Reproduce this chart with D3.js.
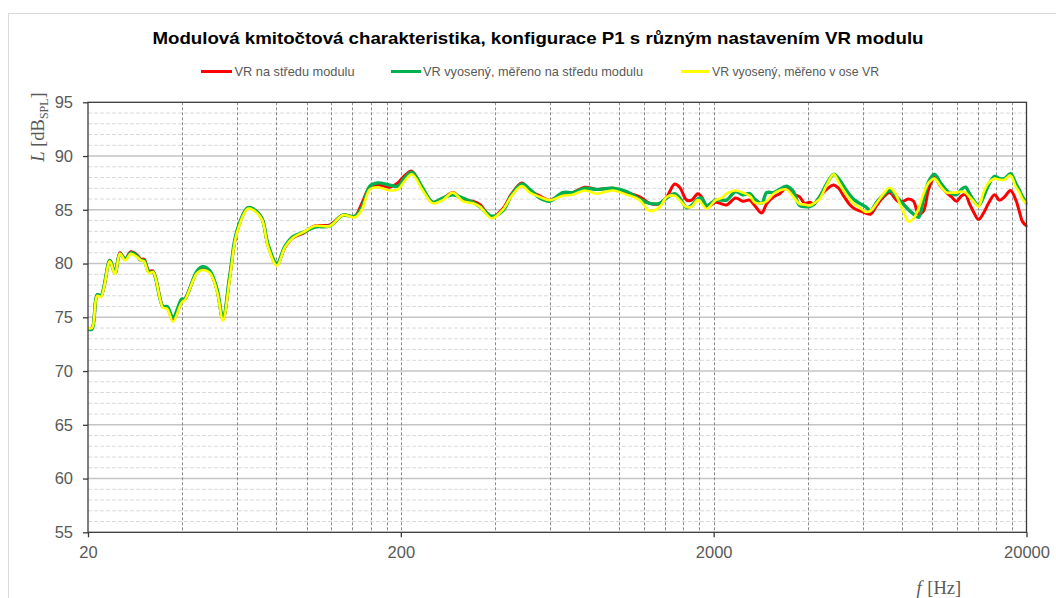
<!DOCTYPE html>
<html><head><meta charset="utf-8">
<script src="https://cdn.jsdelivr.net/npm/d3@7"></script>
<style>body{margin:0;background:#fff}svg{display:block}</style>
</head><body>
<script>
const titleText = "Modulová kmitočtová charakteristika, konfigurace P1 s různým nastavením VR modulu";
const seriesNames = ["VR na středu modulu", "VR vyosený, měřeno na středu modulu", "VR vyosený, měřeno v ose VR"];
const seriesColors = ["#ff0000", "#00b050", "#ffff00"];
const xTickValues = [20, 200, 2000, 20000];
const yTickValues = [55, 60, 65, 70, 75, 80, 85, 90, 95];

const freqs = [
 20,20.6,21.4,22.0,23.5,24.4,25.3,26.3,27.4,28.7,
 29.5,30.2,31.3,32.3,34.7,35.8,37.4,39.9,40.8,44.6,
 46.6,49.1,51.7,54.0,56.8,59.8,64.9,67.3,71.9,75.2,
 80.3,85.2,90.4,97.3,106.2,118.7,130.5,142.6,150.1,159.2,
 168.9,184.4,195.6,206.0,216.9,235.1,253.1,272.4,293.2,315.6,
 339.7,357.7,390.7,423.6,452.5,487.1,516.7,556.1,598.5,658.6,
 708.9,774.2,845.7,951.3,1054,1160,1249,1344,1416,1501,
 1557,1640,1701,1778,1831,1900,2030,2121,2201,2351,
 2475,2606,2704,2847,2953,3110,3250,3422,3575,3765,
 3907,4053,4174,4363,4593,4835,5016,5204,5439,5643,
 5855,6119,6348,6635,6986,7301,7630,7858,8093,8395,
 8710,9035,9374,9726,10165,10624,11103,11519,11951,12398,
 12769,13150,13543,14050,14577,15123,15805,16397,17012,17776,
 18445,18996,19420,20000];

const redValues = [
 74.0,74.0,77.1,77.0,80.3,79.1,81.0,80.4,81.1,80.8,
 80.4,80.4,79.3,79.3,76.0,75.9,74.7,76.5,76.7,79.2,
 79.6,79.2,77.5,74.8,78.8,82.9,85.2,85.1,84.2,81.7,
 79.9,81.5,82.4,82.8,83.5,83.6,84.5,84.4,85.6,87.1,
 87.3,87.1,87.5,88.2,88.6,86.9,85.7,86.0,86.6,85.9,
 85.8,85.5,84.3,85.1,86.5,87.5,86.8,86.3,85.9,86.5,
 86.6,87.1,86.9,87.0,86.6,86.2,85.6,85.55,86.2,87.4,
 87.1,85.9,85.9,86.5,86.2,85.25,85.7,85.55,85.45,86.1,
 85.8,85.9,85.4,84.7,85.55,86.2,86.5,87.05,86.5,86.2,
 85.6,85.7,85.55,86.2,86.9,87.3,87.0,86.3,85.5,85.1,
 84.9,84.7,84.6,85.4,86.2,86.6,86.0,85.7,85.8,86.0,
 85.8,84.6,84.9,86.9,88.0,87.2,86.6,86.2,85.8,86.3,
 86.4,85.55,84.8,84.1,84.7,85.6,86.4,85.9,86.2,86.8,
 86.0,84.8,83.9,83.5];

const greenValues = [
 73.9,73.9,77.1,77.0,80.3,79.1,80.9,80.4,81.0,80.7,
 80.3,80.3,79.2,79.2,76.0,76.0,75.0,76.7,76.7,79.3,
 79.7,79.3,77.6,74.9,78.9,83.0,85.2,85.1,84.2,81.8,
 80.0,81.6,82.5,82.9,83.4,83.5,84.5,84.4,85.2,87.2,
 87.5,87.3,87.2,88.0,88.5,87.0,85.7,86.1,86.4,86.1,
 85.7,85.3,84.4,84.9,86.4,87.4,86.9,86.1,85.8,86.6,
 86.6,87.0,86.9,87.0,86.7,86.0,85.6,85.6,86.1,86.5,
 86.1,85.2,85.4,86.0,86.1,85.4,85.9,85.9,85.9,86.7,
 86.4,86.5,86.0,85.6,86.6,86.6,86.9,87.2,86.8,85.4,
 85.3,85.3,85.5,86.2,87.4,88.3,87.9,87.2,86.4,85.9,
 85.6,85.3,84.9,85.7,86.4,86.8,86.3,85.9,85.5,85.0,
 84.6,84.3,86.0,87.6,88.3,87.5,86.8,86.5,86.4,86.9,
 87.1,86.5,85.9,85.4,86.2,87.3,88.1,87.9,87.9,88.35,
 87.5,86.8,86.2,85.6];

const yellowValues = [
 74.0,74.0,77.0,76.9,80.2,79.0,80.9,80.3,80.9,80.6,
 80.3,80.2,79.1,79.2,75.9,75.8,74.6,76.4,76.6,79.1,
 79.4,79.1,77.4,74.7,78.6,82.8,85.1,85.0,84.1,81.6,
 79.8,81.5,82.4,82.9,83.5,83.5,84.5,84.3,85.0,86.9,
 87.1,86.8,86.9,87.7,88.3,86.8,85.6,85.9,86.6,85.8,
 85.6,85.3,84.2,85.0,86.3,87.2,86.6,86.2,85.9,86.3,
 86.4,86.8,86.5,86.8,86.4,85.9,84.9,85.25,86.2,86.3,
 85.9,85.25,85.3,85.9,85.6,85.1,85.9,86.1,86.5,86.8,
 86.6,86.3,85.7,85.6,85.8,86.5,86.8,86.9,86.3,85.55,
 85.5,85.4,85.6,86.0,87.3,88.3,87.6,86.8,86.0,85.5,
 85.2,84.8,84.9,85.6,86.5,87.05,86.5,85.6,84.8,83.9,
 84.2,85.1,86.5,87.5,87.9,87.2,86.6,86.6,86.6,86.7,
 86.6,86.2,85.8,85.3,86.6,87.5,87.9,87.8,87.8,88.2,
 87.2,86.6,86.0,85.55];

const W = 1056, H = 598;
const L = 88, R = 1026.5, T = 102.3, B = 532.3;

const svg = d3.select("body").append("svg").attr("width", W).attr("height", H);
svg.append("rect").attr("width", W).attr("height", H).attr("fill", "#fff");
// outer chart border
svg.append("rect").attr("x", 8.5).attr("y", 13.5).attr("width", 1200).attr("height", 800)
  .attr("fill", "none").attr("stroke", "#d9d9d9").attr("stroke-width", 1);

const x = d3.scaleLog().domain([20, 20000]).range([L, R]);
const y = d3.scaleLinear().domain([55, 95]).range([B, T]);

const g = svg.append("g");

// minor horizontal gridlines (every 1 dB)
const minorY = d3.range(56, 95).filter(v => v % 5 !== 0);
g.selectAll(".hmin").data(minorY).join("line")
  .attr("x1", L).attr("x2", R).attr("y1", d => y(d)).attr("y2", d => y(d))
  .attr("stroke", "#d9d9d9").attr("stroke-width", 1).attr("stroke-dasharray", "4,2");
// major horizontal gridlines
g.selectAll(".hmaj").data(yTickValues.slice(1, -1)).join("line")
  .attr("x1", L).attr("x2", R).attr("y1", d => y(d)).attr("y2", d => y(d))
  .attr("stroke", "#c4c4c4").attr("stroke-width", 1.5);
// vertical gridlines at multiples of 20*10^n
const vGrid = [];
[20, 200, 2000].forEach(base => { for (let k = 2; k <= 10; k++) vGrid.push(base * k); });
g.selectAll(".vg").data(vGrid.filter(v => v < 20000)).join("line")
  .attr("x1", d => Math.round(x(d)) + 0.5).attr("x2", d => Math.round(x(d)) + 0.5)
  .attr("y1", T).attr("y2", B)
  .attr("stroke", "#8c8c8c").attr("stroke-width", 1).attr("stroke-dasharray", "3,2");

// curves
svg.append("clipPath").attr("id", "clip").append("rect")
  .attr("x", L).attr("y", T - 2).attr("width", R - L + 1).attr("height", B - T + 4);
const line = d3.line().x(d => x(d[0])).y(d => y(d[1])).curve(d3.curveCatmullRom.alpha(0.5));
const allSeries = [redValues, greenValues, yellowValues];
const widths = [3, 3.4, 2.6];
const cg = svg.append("g").attr("clip-path", "url(#clip)");
allSeries.forEach((vals, i) => {
  cg.append("path").datum(freqs.map((f, j) => [f, vals[j]]))
    .attr("d", line).attr("fill", "none").attr("stroke", seriesColors[i])
    .attr("stroke-width", widths[i]).attr("stroke-linejoin", "round").attr("stroke-linecap", "round");
});

// plot frame
svg.append("rect").attr("x", L).attr("y", T).attr("width", R - L).attr("height", B - T)
  .attr("fill", "none").attr("stroke", "#3a3a3a").attr("stroke-width", 1.3);

// y axis ticks & labels
const yAxis = d3.axisLeft(y).tickValues(yTickValues).tickSize(5).tickPadding(10).tickFormat(d3.format("d"));
const ya = svg.append("g").attr("transform", `translate(${L},0)`).call(yAxis);
ya.select(".domain").remove();
ya.selectAll(".tick line").attr("stroke", "#3a3a3a").attr("stroke-width", 1.3);
ya.selectAll(".tick text").attr("fill", "#595959").attr("font-family", "Liberation Sans, Arial, sans-serif")
  .attr("font-size", 16.5);

// x axis ticks & labels
const xAxis = d3.axisBottom(x).tickValues(xTickValues).tickSize(5).tickPadding(9).tickFormat(d3.format("d"));
const xa = svg.append("g").attr("transform", `translate(0,${B})`).call(xAxis);
xa.select(".domain").remove();
xa.selectAll(".tick line").attr("stroke", "#3a3a3a").attr("stroke-width", 1.3);
xa.selectAll(".tick text").attr("fill", "#595959").attr("font-family", "Liberation Sans, Arial, sans-serif")
  .attr("font-size", 16.5);

// title
svg.append("text").attr("x", 538).attr("y", 43.5).attr("text-anchor", "middle")
  .attr("font-family", "Liberation Sans, Arial, sans-serif").attr("font-weight", "bold")
  .attr("font-size", 17).attr("fill", "#000")
  .attr("textLength", 771).attr("lengthAdjust", "spacingAndGlyphs")
  .text(titleText);

// legend
const legendPos = [
  {lx: 201, lw: 31, tx: 234.5, tw: 120},
  {lx: 391, lw: 30, tx: 423, tw: 220},
  {lx: 681, lw: 28, tx: 712, tw: 167}
];
const lg = svg.append("g");
seriesNames.forEach((name, i) => {
  const p = legendPos[i];
  lg.append("line").attr("x1", p.lx).attr("x2", p.lx + p.lw).attr("y1", 71.5).attr("y2", 71.5)
    .attr("stroke", seriesColors[i]).attr("stroke-width", 3);
  lg.append("text").attr("x", p.tx).attr("y", 76).attr("fill", "#595959")
    .attr("font-family", "Liberation Sans, Arial, sans-serif").attr("font-size", 12.7)
    .attr("textLength", p.tw).attr("lengthAdjust", "spacingAndGlyphs").text(name);
});

// y axis title
const yt = svg.append("text").attr("transform", "translate(44,127) rotate(-90)")
  .attr("text-anchor", "middle").attr("fill", "#595959")
  .attr("font-family", "Liberation Serif, Times New Roman, serif").attr("font-size", 18.5);
yt.append("tspan").attr("font-style", "italic").text("L");
yt.append("tspan").text(" [dB");
yt.append("tspan").attr("font-size", 12).attr("dy", 4).text("SPL");
yt.append("tspan").attr("dy", -4).text("]");

// x axis title
const xt = svg.append("text").attr("x", 916.5).attr("y", 594)
  .attr("fill", "#595959").attr("font-family", "Liberation Serif, Times New Roman, serif").attr("font-size", 18.5);
xt.append("tspan").attr("font-style", "italic").text("f");
xt.append("tspan").attr("x", 927.3).text("[Hz]");
</script>
</body></html>
